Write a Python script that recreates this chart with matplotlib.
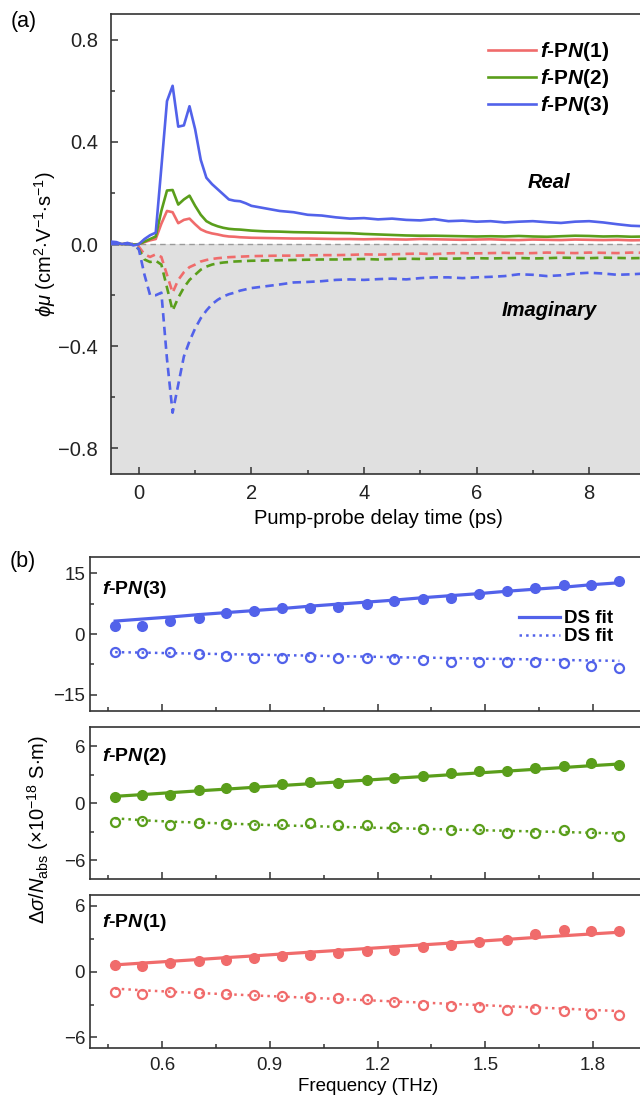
import numpy as np
import matplotlib
matplotlib.use("Agg")
import matplotlib.pyplot as plt
from matplotlib.ticker import MultipleLocator, FixedLocator

plt.rcParams['font.family'] = ['Liberation Sans', 'DejaVu Sans']
plt.rcParams['mathtext.fontset'] = 'custom'
plt.rcParams['mathtext.rm'] = 'Liberation Sans'
plt.rcParams['mathtext.it'] = 'Liberation Sans:italic'
plt.rcParams['mathtext.bf'] = 'Liberation Sans:bold:italic'
plt.rcParams['axes.linewidth'] = 1.2
plt.rcParams['axes.edgecolor'] = '#333333'

RED = '#F06B6B'
GREEN = '#5A9E1B'
BLUE = '#5262EA'

# ---------------- panel (a): time traces ----------------
t_early = np.round(np.arange(-0.5, 2.01, 0.1), 2)
t_late = np.arange(2.25, 10.01, 0.25)
time_ps = np.concatenate([t_early, t_late])

real_pn1 = [0.005, 0.002, 0.0, 0.003, -0.002, 0.0, 0.008, 0.015, 0.02, 0.08, 0.13, 0.125, 0.082,
            0.095, 0.1, 0.078, 0.058, 0.048, 0.042, 0.038, 0.033, 0.03, 0.029, 0.027, 0.026, 0.025,
            0.024, 0.023, 0.022, 0.022, 0.021, 0.02, 0.02, 0.019, 0.02, 0.019, 0.018, 0.02, 0.019,
            0.018, 0.017, 0.018, 0.019, 0.017, 0.016, 0.018, 0.017, 0.016, 0.018, 0.017, 0.016, 0.017,
            0.015, 0.016, 0.017, 0.016, 0.015, 0.016]
real_pn2 = [0.005, 0.003, 0.0, 0.002, -0.002, 0.0, 0.01, 0.02, 0.03, 0.13, 0.21, 0.212, 0.155,
            0.175, 0.19, 0.15, 0.115, 0.09, 0.078, 0.07, 0.064, 0.06, 0.058, 0.057, 0.055, 0.053,
            0.05, 0.049, 0.047, 0.046, 0.045, 0.044, 0.043, 0.04, 0.038, 0.036, 0.034, 0.033, 0.033,
            0.032, 0.031, 0.03, 0.031, 0.03, 0.032, 0.03, 0.029, 0.031, 0.033, 0.032, 0.03, 0.031,
            0.029, 0.03, 0.031, 0.03, 0.029, 0.03]
real_pn3 = [0.01, 0.008, 0.0, 0.005, -0.005, 0.0, 0.02, 0.035, 0.045, 0.30, 0.56, 0.62, 0.46,
            0.465, 0.54, 0.45, 0.33, 0.26, 0.235, 0.215, 0.195, 0.175, 0.17, 0.168, 0.16, 0.15,
            0.14, 0.13, 0.125, 0.115, 0.112, 0.105, 0.10, 0.102, 0.097, 0.1, 0.095, 0.093, 0.098,
            0.09, 0.092, 0.088, 0.09, 0.085, 0.088, 0.09, 0.086, 0.083, 0.088, 0.09, 0.085, 0.078,
            0.072, 0.07, 0.068, 0.072, 0.07, 0.068]

imag_pn1 = [0, 0, 0, 0, 0, -0.01, -0.04, -0.05, -0.04, -0.05, -0.12, -0.19, -0.14, -0.11, -0.09,
            -0.08, -0.068, -0.062, -0.058, -0.055, -0.053, -0.051, -0.05, -0.049, -0.048, -0.047,
            -0.046, -0.045, -0.045, -0.044, -0.043, -0.043, -0.042, -0.04, -0.041, -0.04, -0.038,
            -0.037, -0.039, -0.036, -0.035, -0.036, -0.035, -0.034, -0.036, -0.035, -0.033, -0.034,
            -0.035, -0.033, -0.034, -0.035, -0.033, -0.034, -0.035, -0.034, -0.033, -0.034]
imag_pn2 = [0, 0, 0, 0, 0, -0.02, -0.06, -0.07, -0.065, -0.08, -0.17, -0.26, -0.21, -0.17, -0.14,
            -0.12, -0.1, -0.088, -0.08, -0.075, -0.072, -0.07, -0.068, -0.067, -0.066, -0.065,
            -0.064, -0.063, -0.062, -0.061, -0.06, -0.06, -0.059, -0.058, -0.06, -0.058, -0.057,
            -0.058, -0.056, -0.057, -0.056, -0.055, -0.056, -0.055, -0.054, -0.056, -0.055, -0.053,
            -0.054, -0.055, -0.053, -0.054, -0.055, -0.054, -0.053, -0.054, -0.055, -0.054]
imag_pn3 = [0, 0, 0, 0, 0, -0.02, -0.12, -0.2, -0.2, -0.19, -0.45, -0.66, -0.55, -0.44, -0.38,
            -0.33, -0.29, -0.26, -0.235, -0.218, -0.205, -0.196, -0.19, -0.182, -0.177, -0.172,
            -0.165, -0.158, -0.15, -0.148, -0.145, -0.14, -0.138, -0.14, -0.137, -0.135, -0.138,
            -0.133, -0.13, -0.13, -0.133, -0.13, -0.128, -0.125, -0.118, -0.12, -0.125, -0.122,
            -0.115, -0.112, -0.115, -0.12, -0.118, -0.115, -0.117, -0.118, -0.115, -0.116]

# ---------------- panel (b): THz spectra ----------------
freq_thz = [0.470, 0.545, 0.622, 0.702, 0.779, 0.856, 0.933, 1.013, 1.090, 1.170,
            1.247, 1.327, 1.404, 1.482, 1.561, 1.638, 1.718, 1.794, 1.873]

re_pn3 = [2.0, 2.0, 3.1, 4.0, 5.1, 5.8, 6.4, 6.4, 6.8, 7.4, 8.2, 8.7, 9.0, 9.9, 10.7, 11.3, 12.1, 12.1, 13.2]
im_pn3 = [-4.4, -4.8, -4.4, -5.0, -5.5, -6.0, -6.0, -5.8, -6.0, -6.0, -6.2, -6.4, -6.9, -6.9, -6.9,
          -6.9, -7.1, -7.9, -8.3]
re_fit_pn3 = [3.2, 3.7, 4.2, 4.8, 5.3, 5.8, 6.3, 6.9, 7.4, 7.9, 8.4, 9.0, 9.5, 10.0, 10.6, 11.1,
              11.6, 12.2, 12.7]
im_fit_pn3 = [-4.5, -4.6, -4.75, -4.85, -5.0, -5.1, -5.25, -5.35, -5.5, -5.6, -5.75, -5.85, -5.95,
              -6.1, -6.2, -6.3, -6.45, -6.55, -6.65]

re_pn2 = [0.7, 0.84, 0.87, 1.4, 1.57, 1.68, 2.03, 2.27, 2.13, 2.45, 2.66, 2.9, 3.18, 3.36, 3.43,
          3.67, 3.95, 4.23, 4.06]
im_pn2 = [-2.0, -1.9, -2.27, -2.1, -2.24, -2.34, -2.17, -2.1, -2.34, -2.34, -2.5, -2.7, -2.8, -2.76,
          -3.15, -3.2, -2.8, -3.2, -3.5]
re_fit_pn2 = [0.72, 0.9, 1.1, 1.3, 1.48, 1.67, 1.86, 2.05, 2.24, 2.43, 2.62, 2.81, 3.0, 3.19, 3.38,
              3.57, 3.76, 3.95, 4.13]
im_fit_pn2 = [-1.6, -1.8, -1.95, -2.05, -2.15, -2.25, -2.35, -2.42, -2.5, -2.57, -2.64, -2.71,
              -2.78, -2.85, -2.92, -2.98, -3.05, -3.12, -3.2]

re_pn1 = [0.61, 0.55, 0.76, 0.94, 1.07, 1.22, 1.46, 1.52, 1.7, 1.92, 2.0, 2.22, 2.47, 2.74, 2.89,
          3.44, 3.8, 3.69, 3.75]
im_pn1 = [-1.89, -2.04, -1.89, -1.98, -2.04, -2.1, -2.19, -2.35, -2.44, -2.5, -2.8, -3.0, -3.1,
          -3.26, -3.5, -3.41, -3.56, -3.87, -3.93]
re_fit_pn1 = [0.62, 0.78, 0.94, 1.11, 1.28, 1.44, 1.61, 1.78, 1.94, 2.11, 2.28, 2.45, 2.61, 2.78,
              2.95, 3.12, 3.28, 3.44, 3.6]
im_fit_pn1 = [-1.55, -1.7, -1.83, -1.95, -2.06, -2.17, -2.28, -2.39, -2.5, -2.61, -2.72, -2.83,
              -2.94, -3.05, -3.16, -3.27, -3.38, -3.49, -3.6]

labels = [r'$\mathbf{f}$-P$\mathbf{N}$(1)', r'$\mathbf{f}$-P$\mathbf{N}$(2)', r'$\mathbf{f}$-P$\mathbf{N}$(3)']

W, H = 640, 1100
fig = plt.figure(figsize=(W / 100, H / 100), dpi=100)


def fig_rect(left_px, top_px, width_px, bottom_px):
    return [left_px / W, 1 - bottom_px / H, width_px / W, (bottom_px - top_px) / H]


def px(x, y):
    # pixel position (from top-left) -> figure fraction
    return x / W, 1 - y / H


def style_ticks(ax, size):
    ax.tick_params(which='both', direction='in', top=False, right=False, labelsize=size,
                   colors='#333333', labelcolor='#222222', width=1.1)
    ax.tick_params(which='major', length=5)
    ax.tick_params(which='minor', length=3)


# ---- (a) ----
ax = fig.add_axes(fig_rect(110.7, 14.3, 591, 474))
ax.axhspan(-0.9, 0, color='#e0e0e0', zorder=0, lw=0)
ax.axhline(0, color='#9a9a9a', lw=1.0, dashes=(4, 3), zorder=1)
for real, imag, c, lab in zip([real_pn1, real_pn2, real_pn3], [imag_pn1, imag_pn2, imag_pn3],
                              [RED, GREEN, BLUE], labels):
    ax.plot(time_ps, real, color=c, lw=1.9, label=lab, zorder=3)
    ax.plot(time_ps, imag, color=c, lw=1.9, dashes=(3.2, 2), zorder=3)
ax.set_xlim(-0.5, 10)
ax.set_ylim(-0.9, 0.9)
ax.xaxis.set_major_locator(FixedLocator([0, 2, 4, 6, 8]))
ax.xaxis.set_minor_locator(FixedLocator([1, 3, 5, 7, 9]))
ax.yaxis.set_major_locator(FixedLocator([-0.8, -0.4, 0.0, 0.4, 0.8]))
ax.yaxis.set_minor_locator(MultipleLocator(0.2))
ax.yaxis.set_major_formatter(plt.FuncFormatter(lambda v, p: f'{v:.1f}'.replace('-', '\u2212')))
style_ticks(ax, 14.5)
ax.tick_params(axis='y', which='major', pad=9)
ax.tick_params(axis='x', which='major', pad=7)
ax.set_xlabel('Pump-probe delay time (ps)', fontsize=14.5)
ax.xaxis.set_label_coords((378 - 110.7) / 591, -0.077)
ax.set_ylabel(r'$\phi\mu$ (cm$^2$$\cdot$V$^{-1}$$\cdot$s$^{-1}$)', fontsize=14.5)
ax.yaxis.set_label_coords(-(110.7 - 58) / 591, 0.5)
ax.legend(loc='upper left', bbox_to_anchor=px(488, 40), bbox_transform=fig.transFigure,
          frameon=False, prop={'weight': 'bold', 'size': 15}, handlelength=2.3,
          handletextpad=0.2, labelspacing=0.2, borderpad=0, borderaxespad=0)
fig.text(*px(549, 183), 'Real', fontsize=14.5, fontweight='bold', fontstyle='italic',
         ha='center', va='center')
fig.text(*px(549, 311), 'Imaginary', fontsize=14.5, fontweight='bold', fontstyle='italic',
         ha='center', va='center')
fig.text(*px(24, 22), '(a)', fontsize=15.5, ha='center', va='center')

# ---- (b) ----
panels = [
    (557.3, 710.7, (-19, 19), [-15, 0, 15], 7.5, re_pn3, im_pn3, re_fit_pn3, im_fit_pn3, BLUE, labels[2], 0.79),
    (727.3, 879.0, (-8, 8), [-6, 0, 6], 3, re_pn2, im_pn2, re_fit_pn2, im_fit_pn2, GREEN, labels[1], 0.81),
    (895.0, 1048.3, (-7, 7), [-6, 0, 6], 3, re_pn1, im_pn1, re_fit_pn1, im_fit_pn1, RED, labels[0], 0.82),
]
for i, (top, bot, ylim, yt, ymin, re, im, refit, imfit, c, lab, ty) in enumerate(panels):
    bx = fig.add_axes(fig_rect(90, top, 575, bot))
    bx.plot(freq_thz, refit, color=c, lw=2.3, zorder=2, label='DS fit')
    bx.plot(freq_thz, imfit, color=c, lw=1.8, ls=':', zorder=2, label='DS fit')
    bx.plot(freq_thz, re, 'o', color=c, ms=8, mew=0, zorder=3)
    bx.plot(freq_thz, im, 'o', mfc='none', mec=c, ms=6.5, mew=1.6, zorder=3)
    bx.set_xlim(0.4, 2.0)
    bx.set_ylim(*ylim)
    bx.set_yticks(yt)
    bx.yaxis.set_minor_locator(MultipleLocator(ymin))
    bx.xaxis.set_major_locator(FixedLocator([0.6, 0.9, 1.2, 1.5, 1.8]))
    bx.xaxis.set_minor_locator(FixedLocator([0.45, 0.75, 1.05, 1.35, 1.65, 1.95]))
    style_ticks(bx, 13.5)
    bx.text(0.02, ty, lab, transform=bx.transAxes, fontsize=14, fontweight='bold',
            ha='left', va='center')
    if i < 2:
        bx.tick_params(labelbottom=False)
    if i == 0:
        bx.legend(loc='upper left', bbox_to_anchor=px(519, 610), bbox_transform=fig.transFigure,
                  frameon=False, prop={'weight': 'bold', 'size': 13.5}, handlelength=2.2,
                  handletextpad=0.2, labelspacing=0.05, borderpad=0, borderaxespad=0)
    if i == 2:
        bx.tick_params(axis='x', which='major', pad=6)
        bx.set_xlabel('Frequency (THz)', fontsize=13.5)
        bx.xaxis.set_label_coords((368 - 90) / 575, -0.195)

fig.text(*px(23, 562), '(b)', fontsize=15.5, ha='center', va='center')
fig.text(*px(38, 830), r'$\Delta\sigma/N_{\rm abs}$ (×10$^{-18}$ S$\cdot$m)',
         fontsize=14.5, rotation=90, ha='center', va='center')

fig.savefig('out.png', dpi=100)
